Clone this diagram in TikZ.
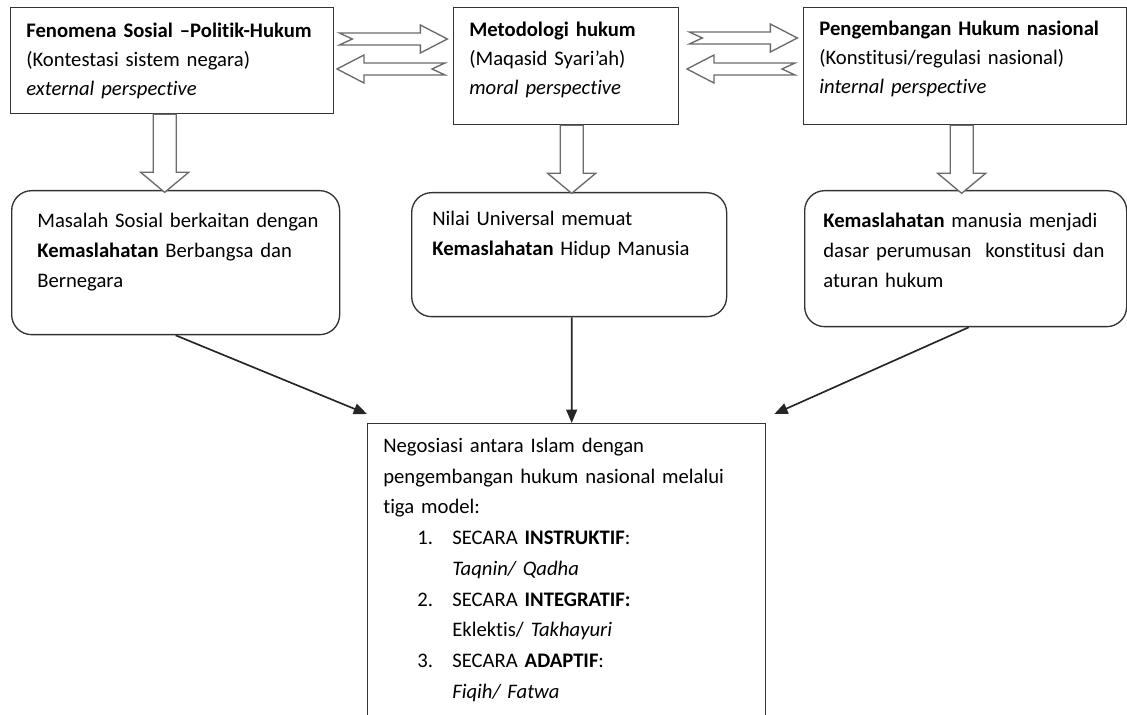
\documentclass[tikz,border=0pt]{standalone}
\usepackage{fontspec}
\setmainfont{Carlito}[Ligatures=NoCommon]
\usetikzlibrary{arrows.meta, calc, positioning}

\definecolor{boxLine}{HTML}{333333}
\definecolor{blockLine}{HTML}{6A6A6A}

\newcommand{\topstrut}{\rule{0pt}{11pt}}
\newcommand{\numitem}[1]{\hspace*{20.4pt}\makebox[21pt][l]{#1}}
\newcommand{\itemcont}{\hspace*{41.4pt}}

\tikzset{
  sqbox/.style={draw=boxLine, line width=0.8pt, inner sep=0pt, anchor=north west},
  rndbox/.style={sqbox, rounded corners=12pt},
  boxtext/.style={anchor=north west, inner sep=0pt, text width=250pt, align=left,
    font=\fontsize{12.4}{18}\selectfont},
  toptext/.style={boxtext, font=\fontsize{12.4}{17.4}\selectfont},
  listtext/.style={boxtext, font=\fontsize{12.4}{18.45}\selectfont},
  link/.style={-{Triangle[length=8pt, width=6.5pt]}, line width=1pt, black!85},
  blockline/.style={draw=blockLine, line width=0.8pt, fill=white, line join=miter},
  pics/hblock/.style={code={
    \draw[blockline] (0,-6) -- (81,-6) -- (81,-14) -- (108,0) -- (81,14)
      -- (81,6) -- (0,6) -- (13,0) -- cycle;}},
  pics/vblock/.style={code={
    \draw[blockline] (-11.5,0) -- (11.5,0) -- (11.5,#1-20) -- (24,#1-20) -- (0,#1)
      -- (-24,#1-20) -- (-11.5,#1-20) -- cycle;}}
}

\begin{document}
\begin{tikzpicture}[x=0.6pt, y=-0.6pt]
  \useasboundingbox (0,0) rectangle (1127,715);

  % top row
  \node[sqbox, minimum width=193.8pt, minimum height=63.6pt] (feno) at (10,7) {};
  \node[sqbox, minimum width=135pt, minimum height=70.2pt] (metod) at (453,7) {};
  \node[sqbox, minimum width=193.8pt, minimum height=70.2pt] (hukum) at (803,7) {};

  \node[toptext] (fenotx) at ($(feno.north west)+(16,11.7)$)
    {\topstrut\textbf{Fenomena Sosial –Politik-Hukum}\\(Kontestasi sistem negara)\\\textit{external perspective}};
  \node[toptext] (metodtx) at ($(metod.north west)+(16,10.7)$)
    {\topstrut\textbf{Metodologi hukum}\\(Maqasid Syari’ah)\\\textit{moral perspective}};
  \node[toptext] (hukumtx) at ($(hukum.north west)+(16,10)$)
    {\topstrut\textbf{Pengembangan Hukum nasional}\\(Konstitusi/regulasi nasional)\\\textit{internal perspective}};

  % middle row
  \node[rndbox, minimum width=196.8pt, minimum height=86.4pt] (masalah) at (11,190) {};
  \node[rndbox, minimum width=189pt, minimum height=74.4pt] (nilai) at (411,192) {};
  \node[rndbox, minimum width=193.2pt, minimum height=81.6pt] (maslahat) at (804,190) {};

  \node[boxtext] (masalahtx) at ($(masalah.north west)+(26,18.7)$)
    {\topstrut Masalah Sosial berkaitan dengan\\\textbf{Kemaslahatan} Berbangsa dan\\Bernegara};
  \node[boxtext] (nilaitx) at ($(nilai.north west)+(21,14.7)$)
    {\topstrut Nilai Universal memuat\\\textbf{Kemaslahatan} Hidup Manusia};
  \node[boxtext] (maslahattx) at ($(maslahat.north west)+(19,18.7)$)
    {\topstrut\textbf{Kemaslahatan} manusia menjadi\\dasar perumusan\ \ konstitusi dan\\aturan hukum};

  % bottom box
  \node[sqbox, minimum width=238.8pt, minimum height=200pt] (negos) at (367,423) {};
  \node[listtext] (negostx) at ($(negos.north west)+(16,10.7)$)
    {\topstrut Negosiasi antara Islam dengan\\
     pengembangan hukum nasional melalui\\
     tiga model:\\
     \numitem{1.}SECARA \textbf{INSTRUKTIF}:\\
     \itemcont\textit{Taqnin/ Qadha}\\
     \numitem{2.}SECARA \textbf{INTEGRATIF:}\\
     \itemcont Eklektis/ \textit{Takhayuri}\\
     \numitem{3.}SECARA \textbf{ADAPTIF}:\\
     \itemcont\textit{Fiqih/ Fatwa}};

  % block arrows
  \pic at ($(feno.north east)+(5,32)$) {hblock};
  \pic[xscale=-1] at ($(metod.north west)+(-8,62)$) {hblock};
  \pic at ($(metod.north east)+(10,31)$) {hblock};
  \pic[xscale=-1] at ($(hukum.north west)+(-8,62)$) {hblock};

  \pic at ($(feno.south)+(-7.5,0)$) {vblock=78};
  \pic at ($(metod.south)+(5.5,0)$) {vblock=68};
  \pic at ($(hukum.south)+(-3.5,0)$) {vblock=68};

  % links
  \draw[link] (masalah.south) -- ($(negos.north west)+(0,-9)$);
  \draw[link] ($(nilai.south)+(2.5,0)$) -- ($(negos.north)+(5,0)$);
  \draw[link] ($(maslahat.south)+(3,0)$) -- ($(negos.north east)+(8,-9)$);
\end{tikzpicture}
\end{document}
